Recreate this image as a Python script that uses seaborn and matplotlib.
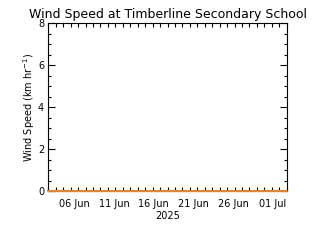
import matplotlib
matplotlib.use("Agg")
import matplotlib.pyplot as plt
import matplotlib.dates as mdates
from matplotlib.ticker import MultipleLocator, LinearLocator
import seaborn as sns
import pandas as pd

# data
times = ["2025-06-02 18:00", "2025-06-10 00:00", "2025-06-17 00:00",
         "2025-06-24 00:00", "2025-07-02 18:00"]
wind_speed = [0, 0, 0, 0, 0]
x_tick_labels = ["06 Jun", "11 Jun", "16 Jun", "21 Jun", "26 Jun", "01 Jul"]
x_tick_dates = ["2025-06-06", "2025-06-11", "2025-06-16", "2025-06-21",
                "2025-06-26", "2025-07-01"]
y_ticks = [0, 2, 4, 6, 8]

df = pd.DataFrame({"time": pd.to_datetime(times), "speed": wind_speed})

sns.set_style("ticks")
plt.rcParams["font.family"] = ["DejaVu Sans"]
plt.rcParams["text.color"] = "black"
plt.rcParams["axes.labelcolor"] = "black"
plt.rcParams["xtick.color"] = "black"
plt.rcParams["ytick.color"] = "black"

fig = plt.figure(figsize=(3.2, 2.4), dpi=100)
ax = fig.add_axes([0.151, 0.204, 0.745, 0.699])

sns.lineplot(data=df, x="time", y="speed", ax=ax, color="#F08020",
             linewidth=1.5, clip_on=False, zorder=5)

ax.set_xlim(pd.Timestamp("2025-06-02 18:00"), pd.Timestamp("2025-07-02 18:00"))
ax.set_ylim(0, 8)

ax.set_xticks(pd.to_datetime(x_tick_dates))
ax.set_xticklabels(x_tick_labels)
ax.xaxis.set_minor_locator(LinearLocator(33))
ax.set_yticks(y_ticks)
ax.set_yticklabels([str(v) for v in y_ticks])
ax.yaxis.set_minor_locator(MultipleLocator(0.5))

ax.tick_params(axis="both", which="both", direction="in", top=True,
               right=True, colors="black", labelcolor="black",
               labelsize=7, width=0.8)
ax.tick_params(axis="x", which="major", length=0, pad=6)
ax.tick_params(axis="x", which="minor", length=3)
ax.tick_params(axis="y", which="major", length=5, pad=3)
ax.tick_params(axis="y", which="minor", length=2.5)

for s in ax.spines.values():
    s.set_linewidth(0.8)
    s.set_color("black")

ax.set_xlabel("2025", fontsize=7, labelpad=1, color="black")
ax.set_ylabel("Wind Speed (km hr$^{-1}$)", fontsize=7, labelpad=1,
              color="black")
ax.set_title("Wind Speed at Timberline Secondary School", fontsize=9, pad=4,
             color="black")

fig.savefig("out.png", dpi=100, facecolor="white")
